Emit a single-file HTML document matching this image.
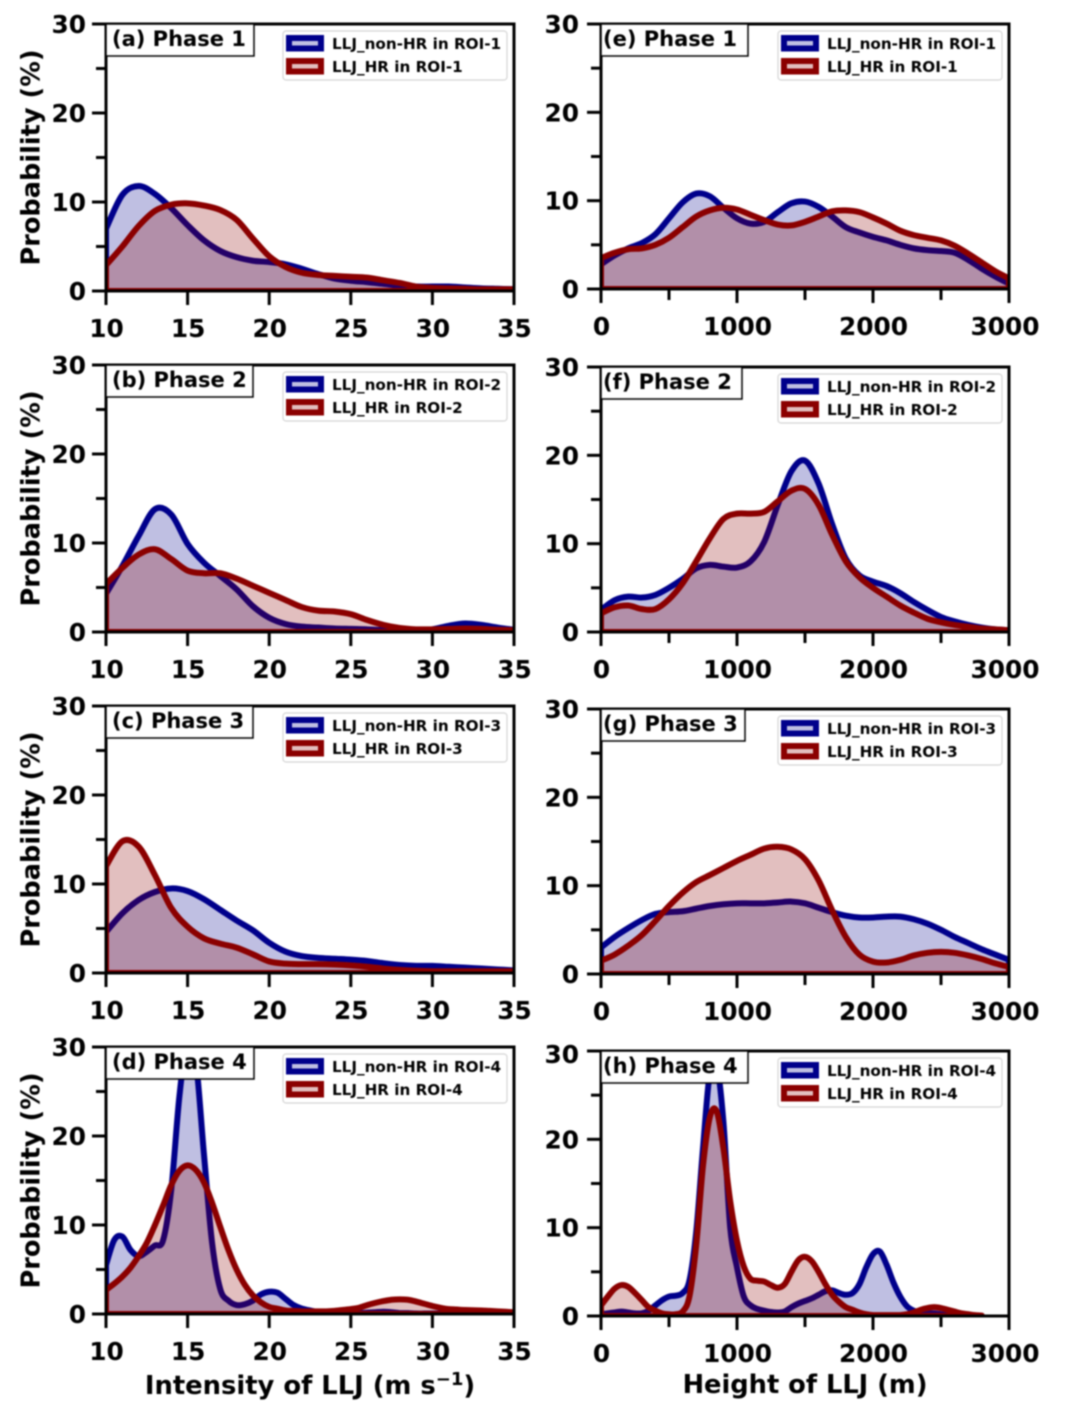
<!DOCTYPE html>
<html lang="en">
<head>
<meta charset="utf-8">
<title>LLJ probability distributions by phase</title>
<style>
html,body{margin:0;padding:0;background:#fff;}
#figure{display:block;width:1074px;height:1413px;filter:blur(0.7px);}
text{font-family:"DejaVu Sans","Liberation Sans",sans-serif;font-weight:bold;fill:#000;}
</style>
</head>
<body>
<svg id="figure" xmlns="http://www.w3.org/2000/svg" width="1074" height="1413" viewBox="0 0 1074 1413"></svg>
<script>
/* x categories */
const intensityX = [10,11,12,13,14,15,16,17,18,19,20,21,22,23,24,25,26,27,28,29,30,31,32,33,34,35];
const intensityFineX = [10,10.5,11,11.5,12,12.5,13,13.5,14,14.5,15,15.5,16,16.5,17,17.5,18,18.5,19,19.5,20,20.5,21,21.5,22,22.5,23,23.5,24,24.5,25,25.5,26,26.5,27,27.5,28,28.5,29,29.5,30,30.5,31,31.5,32,32.5,33,33.5,34,34.5,35];
const heightX = [0,100,200,300,400,500,600,700,800,900,1000,1100,1200,1300,1400,1500,1600,1700,1800,1900,2000,2100,2200,2300,2400,2500,2600,2700,2800,2900,3000];
const heightFineX = [0,50,100,150,200,250,300,350,400,450,500,550,600,650,700,750,800,850,900,950,1000,1050,1100,1150,1200,1250,1300,1350,1400,1450,1500,1550,1600,1650,1700,1750,1800,1850,1900,1950,2000,2050,2100,2150,2200,2250,2300,2350,2400,2450,2500,2550,2600,2650,2700,2750,2800];

/* series values (probability, %) */
const aNonHr = [7,10.8,11.8,10.9,9.3,7.4,5.7,4.5,3.8,3.4,3.25,3.0,2.5,1.9,1.4,1.15,1,0.8,0.6,0.5,0.5,0.5,0.4,0.3,0.25,0.2];
const aHr = [2.9,5,7.3,9,9.7,9.85,9.6,9.1,8,5.9,3.9,2.7,2.05,1.8,1.7,1.6,1.5,1.2,0.9,0.5,0.35,0.3,0.25,0.2,0.2,0.2];
const bNonHr = [4.3,7.4,10.8,13.8,13.2,9.9,7.8,6.3,4.8,2.9,1.6,0.9,0.6,0.5,0.4,0.35,0.3,0.2,0.15,0.15,0.3,0.7,0.95,0.8,0.5,0.25];
const bHr = [5.4,7.2,8.7,9.3,8.2,6.9,6.6,6.6,6,5.2,4.4,3.6,2.8,2.4,2.3,2,1.35,0.8,0.45,0.3,0.3,0.35,0.4,0.35,0.25,0.2];
const cNonHr = [4.6,6.7,8.2,9.1,9.5,9.2,8.3,7.1,5.9,4.8,3.4,2.4,1.9,1.7,1.6,1.5,1.35,1.1,0.9,0.8,0.8,0.7,0.6,0.5,0.4,0.3];
const cHr = [12,14.8,14.2,11,7.3,5.2,3.9,3.3,2.85,2.1,1.3,1.05,1,1,0.95,0.85,0.7,0.5,0.35,0.25,0.2,0.2,0.2,0.2,0.2,0.2];
const dNonHr = [5.5,8.3,8.7,7.2,6.5,7,7.7,8.3,14,24.5,31,28.5,18,8,2.8,1.5,1,1.1,1.5,2.2,2.5,2.4,1.7,1,0.6,0.4,0.2,0.15,0.1,0.1,0.1,0.1,0.15,0.2,0.25,0.2,0.1,0.1,0.05,0.05,0.05,0.05,0.05,0.05,0.05,0.05,0.05,0.05,0.05,0.05,0.05];
const dHr = [2.7,3.4,4.2,5.2,6.5,8,10,12.2,14.5,16.1,16.7,16.2,14.8,12.5,9.8,7.2,5,3.3,2.1,1.3,0.8,0.6,0.4,0.35,0.3,0.3,0.3,0.3,0.35,0.45,0.55,0.7,1,1.25,1.45,1.6,1.65,1.6,1.4,1.15,0.9,0.7,0.55,0.5,0.45,0.42,0.4,0.35,0.3,0.25,0.2];
const eNonHr = [2.8,3.8,4.6,5.2,6.2,8,9.8,10.8,10.5,9.2,8,7.4,7.6,8.7,9.7,9.9,9.3,8.2,7,6.4,5.9,5.5,5,4.6,4.4,4.3,4.1,3.3,2.3,1.4,0.6];
const eHr = [3.5,4.1,4.5,4.6,5,5.8,7,8.2,8.9,9.2,9,8.4,7.8,7.3,7.2,7.6,8.2,8.8,8.9,8.7,8.1,7.4,6.6,6.1,5.8,5.5,4.9,4,3,2,1.2];
const fNonHr = [2.5,3.6,4,3.9,4.2,5,6,7.2,7.6,7.4,7.3,8,10.2,14.4,18.2,19.4,16.8,12.2,8.3,6.4,5.7,5.2,4.4,3.4,2.5,1.7,1.2,0.8,0.5,0.3,0.2];
const fHr = [2.1,2.8,3,2.6,2.6,3.7,5.5,8,10.6,12.8,13.4,13.4,13.6,14.8,16,16.2,14.4,11,8,6.2,5,4,3,2.2,1.5,1.1,0.8,0.6,0.4,0.3,0.2];
const gNonHr = [3,4.2,5.2,6.1,6.8,7,7.1,7.4,7.7,7.9,8,8,8,8.1,8.2,8,7.5,7,6.6,6.4,6.4,6.5,6.5,6.2,5.7,5,4.2,3.5,2.8,2.2,1.6];
const gHr = [1.5,2.2,3.2,4.4,6,7.7,9.2,10.4,11.2,12,12.8,13.5,14.2,14.4,14.1,13,10.6,7.2,4.2,2.2,1.4,1.3,1.6,2.1,2.4,2.5,2.4,2.1,1.7,1.2,0.8];
const hNonHr = [0.2,0.3,0.4,0.5,0.4,0.3,0.3,0.6,1.2,1.8,2.2,2.3,2.6,4,9.5,19,27.5,28.5,22,10,5.5,2.2,1.2,0.8,0.6,0.45,0.4,0.5,1,1.4,1.7,2,2.4,2.8,2.9,2.6,2.4,2.6,3.6,5.5,7,7.3,5.8,3.8,2.2,1.1,0.6,0.4,0.3,0.3,0.2,0.1,0.05];
const hHr = [1.2,2.2,3.1,3.5,3.3,2.6,1.8,1,0.6,0.3,0.2,0.2,0.5,2.2,8,17,22.5,23.2,19,13,8.5,5.6,4.2,4,3.9,3.5,3.2,3.6,5,6.3,6.7,6.2,5,3.6,2.4,1.6,1,0.7,0.4,0.2,0.1,0.1,0.1,0.1,0.1,0.2,0.4,0.7,0.9,1,0.9,0.7,0.5,0.3,0.2,0.1,0.05];

/* tick values and labels */
const yTicksMajor = [0,10,20,30];
const yTicksMinor = [5,15,25];
const intensityTicks = [10,15,20,25,30,35];
const heightTicksMajor = [0,1000,2000,3000];
const heightTicksMinor = [500,1500,2500];

/* panel titles and legend text */
const phaseTitles = ['(a) Phase 1','(b) Phase 2','(c) Phase 3','(d) Phase 4','(e) Phase 1','(f) Phase 2','(g) Phase 3','(h) Phase 4'];
const roiNames = ['ROI-1','ROI-2','ROI-3','ROI-4','ROI-1','ROI-2','ROI-3','ROI-4'];

const panels = [
 {left:106,top:24,bottom:291,xs:intensityX,blue:aNonHr,red:aHr,kind:'i',box:148},
 {left:106,top:365,bottom:632,xs:intensityX,blue:bNonHr,red:bHr,kind:'i',box:147},
 {left:106,top:706,bottom:973,xs:intensityX,blue:cNonHr,red:cHr,kind:'i',box:147},
 {left:106,top:1047,bottom:1314,xs:intensityFineX,blue:dNonHr,red:dHr,kind:'i',box:148},
 {left:601,top:24,bottom:289,xs:heightX,blue:eNonHr,red:eHr,kind:'h',box:147},
 {left:601,top:367,bottom:632,xs:heightX,blue:fNonHr,red:fHr,kind:'h',box:141},
 {left:601,top:709,bottom:974,xs:heightX,blue:gNonHr,red:gHr,kind:'h',box:144},
 {left:601,top:1051,bottom:1316,xs:heightFineX,blue:hNonHr,red:hHr,kind:'h',box:147}
];
const PANEL_W = 408;
const BLUE = '#00008b';
const RED = '#8b0000';
const NS = 'http://www.w3.org/2000/svg';
const root = document.getElementById('figure');

function make(tag, parent, attrs){
  const n = document.createElementNS(NS, tag);
  for (const k in attrs) n.setAttribute(k, attrs[k]);
  parent.appendChild(n);
  return n;
}

/* smooth closed area path through data points, using the axis functions */
function areaPath(xs, ys, sx, sy){
  const p = ys.map((v,i)=>[sx(xs[i]), sy(v)]);
  let d = 'M' + p[0][0].toFixed(2) + ' ' + sy(0).toFixed(2) + 'L' + p[0][0].toFixed(2) + ' ' + p[0][1].toFixed(2);
  for (let i=0;i<p.length-1;i++){
    const a = p[Math.max(i-1,0)], b = p[i], c = p[i+1], e = p[Math.min(i+2,p.length-1)];
    const c1x = b[0]+(c[0]-a[0])/6, c1y = b[1]+(c[1]-a[1])/6;
    const c2x = c[0]-(e[0]-b[0])/6, c2y = c[1]-(e[1]-b[1])/6;
    d += 'C'+c1x.toFixed(2)+' '+c1y.toFixed(2)+' '+c2x.toFixed(2)+' '+c2y.toFixed(2)+' '+c[0].toFixed(2)+' '+c[1].toFixed(2);
  }
  d += 'L' + p[p.length-1][0].toFixed(2) + ' ' + sy(0).toFixed(2) + 'Z';
  return d;
}

panels.forEach((pn, idx)=>{
  const xMin = pn.kind==='i' ? 10 : 0;
  const xMax = pn.kind==='i' ? 35 : 3000;
  const sx = v => pn.left + (v-xMin)/(xMax-xMin)*PANEL_W;
  const sy = v => pn.bottom - v/30*(pn.bottom-pn.top);

  const g = make('g', root, {});
  
  

  const clipId = 'clip' + idx;
  const defs = make('defs', g, {});
  const clip = make('clipPath', defs, {id:clipId});
  make('rect', clip, {x:pn.left,y:pn.top,width:PANEL_W,height:pn.bottom-pn.top});

  const plot = make('g', g, {'clip-path':'url(#'+clipId+')'});
  
  

  const blueArea = make('path', plot, {d:areaPath(pn.xs,pn.blue,sx,sy),fill:BLUE,'fill-opacity':0.25,stroke:BLUE,'stroke-width':6,'stroke-linejoin':'round'});
  
  

  const redArea = make('path', plot, {d:areaPath(pn.xs,pn.red,sx,sy),fill:RED,'fill-opacity':0.25,stroke:RED,'stroke-width':6,'stroke-linejoin':'round'});
  
  

  /* spines */
  const spines = make('rect', g, {x:pn.left,y:pn.top,width:PANEL_W,height:pn.bottom-pn.top,fill:'none',stroke:'#000','stroke-width':3});
  
  

  const yLabelGap = pn.kind==='i' ? 20 : 22;

  /* y ticks */
  yTicksMajor.forEach(v=>{
    const t = make('line', g, {x1:pn.left-14,x2:pn.left,y1:sy(v),y2:sy(v),stroke:'#000','stroke-width':3});
    
    
    const nudge = (idx===7 && v===30) ? 3 : 0;
    const lb = make('text', g, {x:pn.left-yLabelGap,y:sy(v)+9+nudge,'text-anchor':'end','font-size':24.8});
    lb.textContent = String(v);
    
    
  });
  yTicksMinor.forEach(v=>{
    const t = make('line', g, {x1:pn.left-10,x2:pn.left,y1:sy(v),y2:sy(v),stroke:'#000','stroke-width':3});
    
    
  });

  /* x ticks */
  const majors = pn.kind==='i' ? intensityTicks : heightTicksMajor;
  majors.forEach(v=>{
    const t = make('line', g, {x1:sx(v),x2:sx(v),y1:pn.bottom,y2:pn.bottom+14,stroke:'#000','stroke-width':3});
    
    
    const xNudge = (pn.kind==='h' && v===3000) ? -4 : 0.5;
    const lb = make('text', g, {x:sx(v)+xNudge,y:pn.bottom+46,'text-anchor':'middle','font-size':24.8});
    lb.textContent = String(v);
    
    
  });
  if (pn.kind==='h') heightTicksMinor.forEach(v=>{
    const t = make('line', g, {x1:sx(v),x2:sx(v),y1:pn.bottom,y2:pn.bottom+11,stroke:'#000','stroke-width':3});
    
    
  });

  /* y axis title, left column only */
  if (pn.kind==='i'){
    const cy = (pn.top+pn.bottom)/2;
    const yt = make('text', g, {x:0,y:0,'text-anchor':'middle','font-size':25.6,transform:'translate(39.5 '+cy+') rotate(-90)'});
    yt.textContent = 'Probability (%)';
    
    
  }

  /* phase label */
  const labelBox = make('rect', g, {x:pn.left,y:pn.top,width:pn.box,height:32,fill:'#fff',stroke:'#000','stroke-width':1.5});
  
  
  const labelText = make('text', g, {x:pn.left+(pn.kind==='i'?6:2),y:pn.top+22,'font-size':21});
  labelText.textContent = phaseTitles[idx];
  
  

  /* legend */
  const lx = pn.left + 177, ly = pn.top + 7;
  const legend = make('g', g, {});
  
  
  make('rect', legend, {x:lx,y:ly,width:224,height:49,rx:3,fill:'#fff','fill-opacity':0.85,stroke:'#d4d4d4','stroke-width':1.2});

  const h1 = make('rect', legend, {x:lx+6,y:ly+7,width:32,height:10.5,fill:BLUE,'fill-opacity':0.25,stroke:BLUE,'stroke-width':6});
  
  
  const t1 = make('text', legend, {x:lx+49,y:ly+18,'font-size':15.2});
  t1.textContent = 'LLJ_non-HR in ' + roiNames[idx];
  
  

  const h2 = make('rect', legend, {x:lx+6,y:ly+30,width:32,height:10.5,fill:RED,'fill-opacity':0.25,stroke:RED,'stroke-width':6});
  
  
  const t2 = make('text', legend, {x:lx+49,y:ly+41,'font-size':15.2});
  t2.textContent = 'LLJ_HR in ' + roiNames[idx];
  
  
});

/* x axis titles */
const xTitleLeft = make('text', root, {x:310,y:1394,'text-anchor':'middle','font-size':25.8});


xTitleLeft.appendChild(document.createTextNode('Intensity of LLJ (m s'));
const sup = make('tspan', xTitleLeft, {dy:-9,'font-size':18});
sup.textContent = '\u22121';
const closeParen = make('tspan', xTitleLeft, {dy:9});
closeParen.textContent = ')';

const xTitleRight = make('text', root, {x:805,y:1393,'text-anchor':'middle','font-size':25.7});
xTitleRight.textContent = 'Height of LLJ (m)';


</script>
</body>
</html>
